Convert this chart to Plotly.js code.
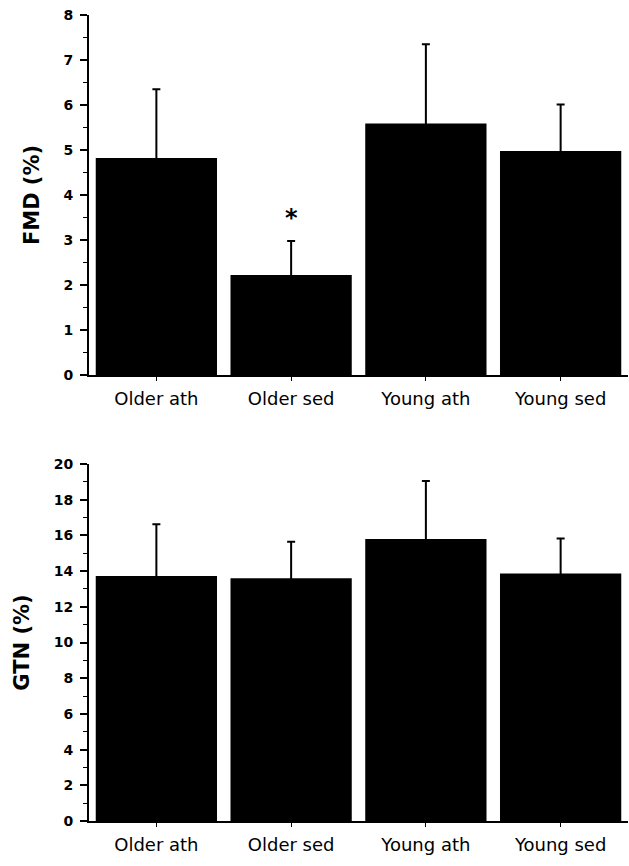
<!DOCTYPE html>
<html>
<head>
<meta charset="utf-8">
<script src="https://cdn.plot.ly/plotly-3.0.1.min.js"></script>
<style>html,body{margin:0;padding:0;background:#fff;}#chart{width:629px;height:866px;}</style>
</head>
<body>
<div id="chart"></div>
<script>
var groups = ["Older ath", "Older sed", "Young ath", "Young sed"];
var fmdMean = [4.82, 2.22, 5.59, 4.98];
var fmdErr = [1.53, 0.76, 1.76, 1.03];
var gtnMean = [13.73, 13.6, 15.8, 13.86];
var gtnErr = [2.89, 2.05, 3.25, 1.96];
var fmdTicks = [0, 1, 2, 3, 4, 5, 6, 7, 8];
var gtnTicks = [0, 2, 4, 6, 8, 10, 12, 14, 16, 18, 20];
var starLabel = "*";
var starY = 3.5;

var barStyle = {color: "#000000", line: {width: 0}};
var errStyle = {color: "#000000", thickness: 2, width: 4};

var traces = [
  {type: "bar", x: groups, y: fmdMean, xaxis: "x", yaxis: "y", marker: barStyle,
   error_y: Object.assign({type: "data", array: fmdErr, symmetric: true}, errStyle),
   hoverinfo: "none"},
  {type: "bar", x: groups, y: gtnMean, xaxis: "x2", yaxis: "y2", marker: barStyle,
   error_y: Object.assign({type: "data", array: gtnErr, symmetric: true}, errStyle),
   hoverinfo: "none"}
];

var tickFont = {family: "DejaVu Sans", size: 14, color: "#000", weight: "bold"};
var catFont = {family: "DejaVu Sans", size: 18, color: "#000"};
var titleFont = {family: "DejaVu Sans", size: 21, color: "#000", weight: "bold"};

function xax(anchor) {
  return {anchor: anchor, domain: [89/629, 628/629], range: [-0.5, 3.5], showgrid: false, zeroline: false,
    showline: true, linecolor: "#000", linewidth: 2, ticks: "outside", ticklen: 4, tickwidth: 1, tickcolor: "#000",
    tickfont: catFont, ticklabelstandoff: 2, fixedrange: true};
}
function yax(anchor, domain, range, ticks, minorDtick, title) {
  return {anchor: anchor, domain: domain, range: range, tickmode: "array", tickvals: ticks,
    ticktext: ticks.map(String), showgrid: false, zeroline: false, showline: true, linecolor: "#000", linewidth: 2,
    ticks: "outside", ticklen: 7, tickwidth: 2, tickcolor: "#000", tickfont: tickFont, ticklabelstandoff: 4,
    minor: {ticks: "outside", ticklen: 4, tickwidth: 1, tickcolor: "#000", dtick: minorDtick, tick0: 0},
    title: {text: title, font: titleFont, standoff: 18}, fixedrange: true};
}

var layout = {
  width: 629, height: 866,
  margin: {l: 0, r: 0, t: 0, b: 0},
  paper_bgcolor: "#fff", plot_bgcolor: "#fff",
  showlegend: false, bargap: 0.1,
  xaxis: xax("y"),
  yaxis: yax("x", [1 - 375/866, 1 - 15/866], [0, 8], fmdTicks, 0.5, "FMD (%)"),
  xaxis2: xax("y2"),
  yaxis2: yax("x2", [1 - 821/866, 1 - 464/866], [0, 20], gtnTicks, 1, "GTN (%)"),
  annotations: [
    {x: groups[1], y: starY, xref: "x", yref: "y", text: starLabel, showarrow: false,
     font: {family: "DejaVu Sans", size: 24, color: "#000", weight: "bold"}}
  ]
};

Plotly.newPlot("chart", traces, layout, {displayModeBar: false, staticPlot: true});
</script>
</body>
</html>
